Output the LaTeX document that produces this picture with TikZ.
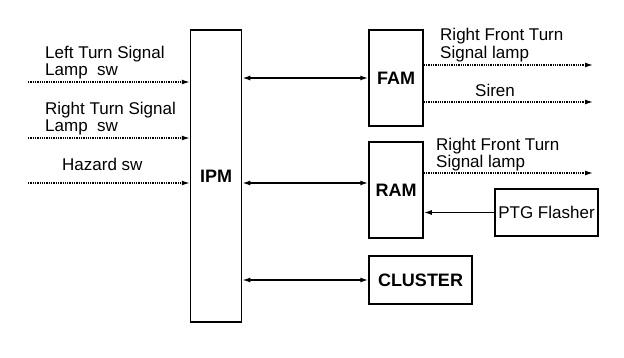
\documentclass[tikz,border=0pt]{standalone}
\usepackage{fontspec}
\setmainfont{Liberation Sans}
\usetikzlibrary{arrows.meta}
\begin{document}
\begin{tikzpicture}[x=1pt,y=-1pt,
  blk/.style={draw,line width=1.5pt,inner sep=0pt,font=\fontsize{18}{18}\selectfont\bfseries},
  lbl/.style={inner sep=0pt,anchor=base west,font=\fontsize{17}{17}\selectfont},
  sig/.style={densely dotted,line width=1.3pt,-{Latex[length=8pt,width=5pt]}},
  bus/.style={line width=1.5pt,{Latex[length=8pt,width=5pt]}-{Latex[length=8pt,width=5pt]}},
  one/.style={line width=1.5pt,-{Latex[length=8pt,width=5pt]}}]
\useasboundingbox (0,0) rectangle (624,358);
% blocks
\node[blk,minimum width=51pt,minimum height=292pt] (ipm) at (216,176) {IPM};
\node[blk,minimum width=54pt,minimum height=96pt] (fam) at (396,78) {FAM};
\node[blk,minimum width=54pt,minimum height=96pt] (ram) at (396,190) {RAM};
\node[blk,minimum width=103pt,minimum height=48pt] (cl) at (420.5,280) {CLUSTER};
\node[blk,font=\fontsize{17}{17}\selectfont,minimum width=103pt,minimum height=47pt] (ptg) at (546.5,212.5) {PTG Flasher};
% input coordinates
\coordinate (i1) at (28,82);
\coordinate (i2) at (28,138);
\coordinate (i3) at (28,183);
\draw[sig] (i1) -- (i1 -| ipm.west);
\draw[sig] (i2) -- (i2 -| ipm.west);
\draw[sig] (i3) -- (i3 -| ipm.west);
\node[lbl] (t1a) at (45,59) {Left Turn Signal};
\node[lbl] (t1b) at (45,76) {Lamp\ \ sw};
\node[lbl] (t2a) at (45,115) {Right Turn Signal};
\node[lbl] (t2b) at (45,132) {Lamp\ \ sw};
\node[lbl] (t3) at (62,171) {Hazard sw};
% buses
\draw[bus] (ipm.east |- fam.west) -- (fam.west);
\draw[bus] (ipm.east |- 0,183) -- (ram.west |- 0,183);
\draw[bus] (ipm.east |- cl.west) -- (cl.west);
% outputs
\coordinate (o1) at (593,65);
\coordinate (o2) at (593,102);
\coordinate (o3) at (593,173);
\draw[sig] (fam.east |- o1) -- (o1);
\draw[sig] (fam.east |- o2) -- (o2);
\draw[sig] (ram.east |- o3) -- (o3);
\node[lbl] (f1a) at (440,41) {Right Front Turn};
\node[lbl] (f1b) at (440,59) {Signal lamp};
\node[lbl] (f2) at (475,97) {Siren};
\node[lbl] (r1a) at (436,151) {Right Front Turn};
\node[lbl] (r1b) at (436,168) {Signal lamp};
\draw[one] (ptg.west) -- (ram.east |- ptg.west);
\end{tikzpicture}
\end{document}
